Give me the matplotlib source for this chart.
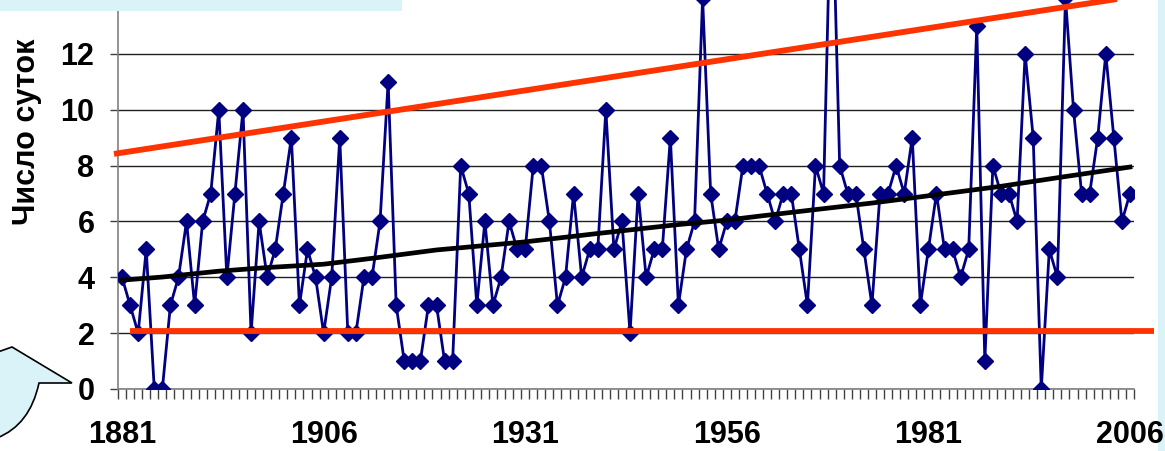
import numpy as np
import matplotlib
matplotlib.use('Agg')
import matplotlib.pyplot as plt
from matplotlib.path import Path
from matplotlib.patches import PathPatch, Rectangle

plt.rcParams['font.family'] = ['Liberation Sans', 'DejaVu Sans']
plt.rcParams['font.weight'] = 'bold'

# data
years = list(range(1881, 2007))
days = [4, 3, 2, 5, 0, 0, 3, 4, 6, 3,
        6, 7, 10, 4, 7, 10, 2, 6, 4, 5,
        7, 9, 3, 5, 4, 2, 4, 9, 2, 2,
        4, 4, 6, 11, 3, 1, 1, 1, 3, 3,
        1, 1, 8, 7, 3, 6, 3, 4, 6, 5,
        5, 8, 8, 6, 3, 4, 7, 4, 5, 5,
        10, 5, 6, 2, 7, 4, 5, 5, 9, 3,
        5, 6, 14, 7, 5, 6, 6, 8, 8, 8,
        7, 6, 7, 7, 5, 3, 8, 7, 19, 8,
        7, 7, 5, 3, 7, 7, 8, 7, 9, 3,
        5, 7, 5, 5, 4, 5, 13, 1, 8, 7,
        7, 6, 12, 9, 0, 5, 4, 14, 10, 7,
        7, 9, 12, 9, 6, 7]

# smooth trend (black)
trend_years = [1881, 1886, 1893, 1899, 1906, 1912, 1920, 1931, 1940, 1950,
               1956, 1960, 1968, 1974, 1981, 1990, 1998, 2006]
trend_vals = [3.9, 4.01, 4.22, 4.35, 4.47, 4.68, 4.98, 5.27, 5.57, 5.89,
              6.05, 6.19, 6.46, 6.66, 6.92, 7.26, 7.61, 7.95]

# hand-drawn red lines
upper_x = [1880.0, 2005.1]
upper_y = [8.42, 14.0]
lower_x = [1882.0, 2009.0]
lower_y = [2.07, 2.07]

label_years = [1881, 1906, 1931, 1956, 1981, 2006]
y_ticks = [0, 2, 4, 6, 8, 10, 12]

W, H = 1165, 451
fig = plt.figure(figsize=(W / 100, H / 100), dpi=100)

ytop = 16
ax = fig.add_axes([118 / W, (H - 389) / H, (1134 - 118) / W, ytop * 27.92 / H])
ax.set_xlim(1880.5, 2006.5)
ax.set_ylim(0, ytop)

ax.set_yticks(y_ticks)
ax.yaxis.grid(True, color='#202020', lw=1)
ax.set_axisbelow(True)

ax.plot(years, days, color='#000080', lw=2, marker='D', ms=8.5,
        mfc='#000080', mec='#000080', zorder=3)
ax.plot(trend_years, trend_vals, color='black', lw=3.4, zorder=4)
ax.plot(upper_x, upper_y, color='#FF3300', lw=4.2, zorder=5, clip_on=False,
        solid_capstyle='butt')
ax.plot(lower_x, lower_y, color='#FF3300', lw=4.2, zorder=5, clip_on=False,
        solid_capstyle='butt')

ax.set_xticks(label_years)
ax.set_xticklabels([str(y) for y in label_years])
ax.set_xticks(np.arange(1880.5, 2007), minor=True)
ax.tick_params(axis='x', which='major', length=0, pad=22, labelsize=22)
ax.tick_params(axis='x', which='minor', length=7, width=1, color='#404040')
ax.tick_params(axis='y', length=6, width=1, color='#404040', pad=11, labelsize=22)

for s in ['top', 'right']:
    ax.spines[s].set_visible(False)
for s in ['left', 'bottom']:
    ax.spines[s].set_color('#808080')
    ax.spines[s].set_linewidth(1.2)

fig.text(27 / W, 1 - 132 / H, 'Число суток', rotation=90, ha='center',
         va='center', fontsize=22, fontweight='bold')

# slide decorations
box_col = '#DAF3F8'


def px(x, y):
    return (x / W, 1 - y / H)


fig.add_artist(Rectangle(px(0, 10.5), 402 / W, 12 / H, transform=fig.transFigure,
                         facecolor=box_col, edgecolor='none', zorder=10))
fig.add_artist(Rectangle(px(1158, H + 2), 10 / W, 1.1, transform=fig.transFigure,
                         facecolor=box_col, edgecolor='none', zorder=-1))

verts = [px(-5, 353), px(12, 347), px(72, 383), px(39, 383), px(30, 425), px(-3, 438),
         px(-5, 353)]
codes = [Path.MOVETO, Path.LINETO, Path.LINETO, Path.LINETO, Path.CURVE3, Path.CURVE3,
         Path.CLOSEPOLY]
fig.add_artist(PathPatch(Path(verts, codes), transform=fig.transFigure,
                         facecolor=box_col, edgecolor='black', lw=1.2, zorder=10))

fig.savefig('out.png', dpi=100)
